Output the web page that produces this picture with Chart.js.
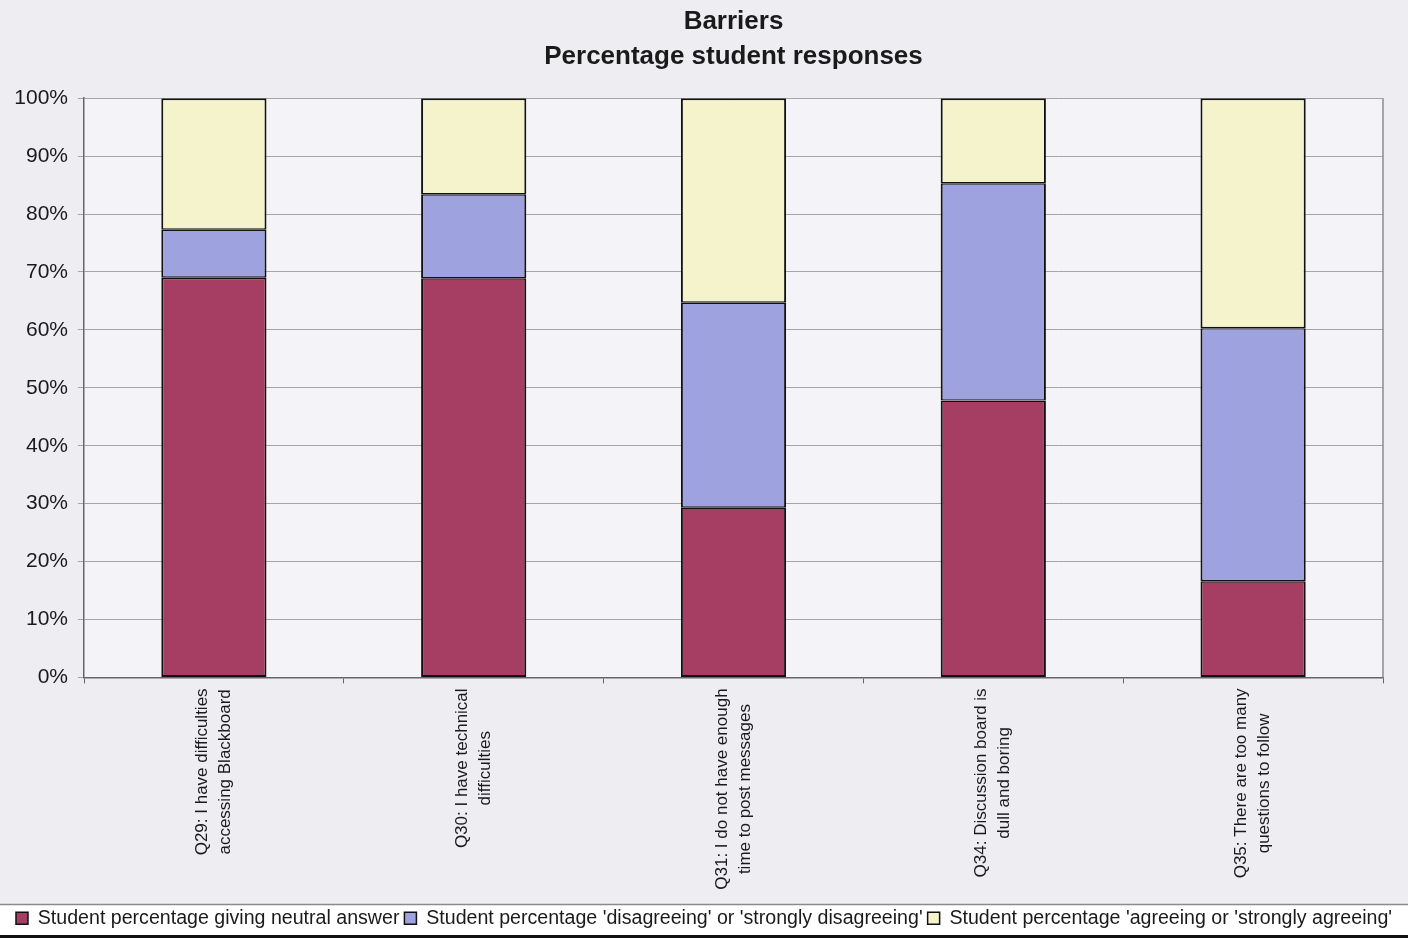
<!DOCTYPE html>
<html>
<head>
<meta charset="utf-8">
<title>Barriers</title>
<script src="https://cdn.jsdelivr.net/npm/chart.js@4.4.1/dist/chart.umd.min.js"></script>
<style>
  html, body { margin: 0; padding: 0; background: #eeedf2; }
  #wrap { width: 1408px; height: 938px; position: relative; }
</style>
</head>
<body>
<div id="wrap"><canvas id="barChart"></canvas></div>
<script>
const questions = [
  ["Q29: I have difficulties", "accessing Blackboard"],
  ["Q30: I have technical", "difficulties"],
  ["Q31: I do not have enough", "time to post messages"],
  ["Q34: Discussion board is", "dull and boring"],
  ["Q35: There are too many", "questions to follow"]
];

const neutral = [69.0, 68.9, 29.3, 47.8, 16.6];
const disagreeing = [8.3, 14.5, 35.4, 37.5, 43.7];
const agreeing = [22.7, 16.6, 35.3, 14.7, 39.7];

const yTicks = [0, 10, 20, 30, 40, 50, 60, 70, 80, 90, 100];

const FONT = "'Liberation Sans', Arial, sans-serif";
const TEXT = "#1a1a1a";

// plot area fill, right border, legend strip and rotated category labels
const decorations = {
  id: "decorations",
  beforeDraw(chart) {
    const { ctx, chartArea: a } = chart;
    ctx.save();
    ctx.fillStyle = "#f4f3f7";
    ctx.fillRect(a.left, a.top, a.right - a.left, a.bottom - a.top);

    const lg = chart.legend;
    const top = lg.top + 1;
    const bottom = chart.height - 3;
    ctx.fillStyle = "#ffffff";
    ctx.fillRect(0, top, chart.width, bottom - top);
    ctx.strokeStyle = "#8a8a8a";
    ctx.lineWidth = 1.5;
    ctx.beginPath();
    ctx.moveTo(0, top);
    ctx.lineTo(chart.width, top);
    ctx.stroke();
    ctx.fillStyle = "#111";
    ctx.fillRect(0, bottom, chart.width, chart.height - bottom);
    ctx.restore();
  },
  afterDraw(chart) {
    const { ctx, chartArea: a } = chart;
    const x = chart.scales.x;
    ctx.save();
    ctx.strokeStyle = "#8d8d8d";
    ctx.lineWidth = 1.5;
    ctx.beginPath();
    ctx.moveTo(a.right, a.top);
    ctx.lineTo(a.right, a.bottom);
    ctx.stroke();

    ctx.font = "17px " + FONT;
    ctx.fillStyle = TEXT;
    ctx.textAlign = "center";
    ctx.textBaseline = "middle";
    const lineH = 23;
    questions.forEach((lines, i) => {
      const px = x.getPixelForValue(i);
      const maxW = Math.max(...lines.map(l => ctx.measureText(l).width));
      ctx.save();
      ctx.translate(px, a.bottom + 11);
      ctx.rotate(-Math.PI / 2);
      lines.forEach((l, j) => {
        ctx.fillText(l, -maxW / 2, (j - (lines.length - 1) / 2) * lineH);
      });
      ctx.restore();
    });
    ctx.restore();
  }
};

function segment(label, data, color, edge) {
  return {
    label,
    data,
    backgroundColor: color,
    borderColor: "#111",
    borderWidth: {
      left: 2,
      right: 2,
      top: edge === "top" ? 2 : 1.4,
      bottom: edge === "bottom" ? 2 : 1.4
    },
    borderSkipped: false,
    categoryPercentage: 1,
    barPercentage: 0.405
  };
}

new Chart(document.getElementById("barChart"), {
  type: "bar",
  data: {
    labels: questions,
    datasets: [
      segment("Student percentage giving neutral answer", neutral, "#a63d63", "bottom"),
      segment("Student percentage 'disagreeing' or 'strongly disagreeing'", disagreeing, "#9ea2df", "mid"),
      segment("Student percentage 'agreeing or 'strongly agreeing'", agreeing, "#f4f3cb", "top")
    ]
  },
  options: {
    responsive: true,
    maintainAspectRatio: false,
    animation: false,
    layout: { padding: { left: 0, right: 0, top: 0, bottom: 0 } },
    plugins: {
      title: {
        display: true,
        fullSize: false,
        text: ["Barriers", "Percentage student responses"],
        color: TEXT,
        font: { family: FONT, size: 26, weight: "bold", lineHeight: 1.35 },
        padding: { top: 4.5, bottom: 23.5 }
      },
      legend: {
        position: "bottom",
        labels: {
          color: TEXT,
          font: { family: FONT, size: 19.6, lineHeight: 1.2 },
          boxWidth: 12,
          boxHeight: 12,
          padding: 5,
          generateLabels(chart) {
            return chart.data.datasets.map((ds, i) => ({
              text: ds.label,
              fillStyle: ds.backgroundColor,
              strokeStyle: "#111",
              lineWidth: 1.5,
              fontColor: TEXT,
              datasetIndex: i
            }));
          }
        }
      },
      tooltip: { enabled: false }
    },
    scales: {
      x: {
        stacked: true,
        offset: true,
        grid: { drawOnChartArea: false, drawTicks: true, tickLength: 6, color: "#666", offset: true },
        border: { color: "#666", width: 1.5 },
        ticks: { display: false },
        afterFit(scale) {
          scale.height = 226;
          scale.paddingRight = 25;
        }
      },
      y: {
        stacked: true,
        min: 0,
        max: 100,
        afterBuildTicks(scale) {
          scale.ticks = yTicks.map(v => ({ value: v }));
        },
        grid: { color: "#a5a5a5", lineWidth: 1, tickLength: 6 },
        border: { color: "#666", width: 1.5 },
        ticks: {
          color: TEXT,
          padding: 10,
          font: { family: FONT, size: 21 },
          callback: v => v + "%"
        },
        afterFit(scale) {
          scale.width = 84;
        }
      }
    }
  },
  plugins: [decorations]
});
</script>
</body>
</html>
